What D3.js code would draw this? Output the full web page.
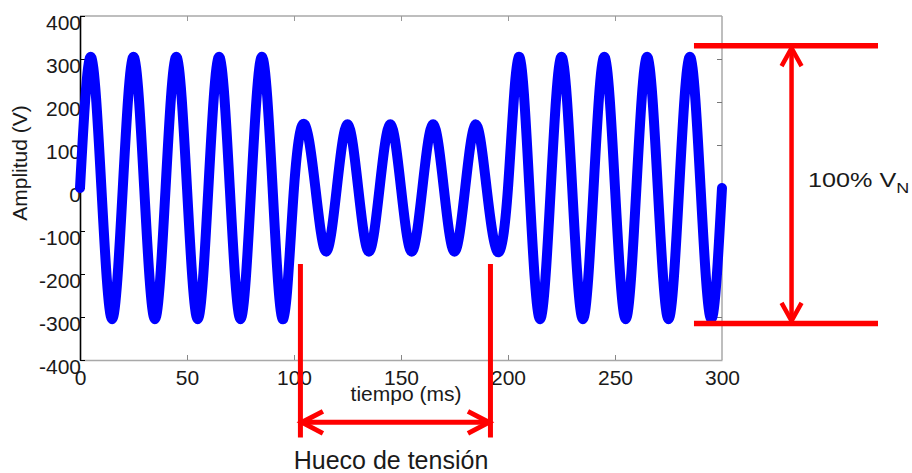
<!DOCTYPE html>
<html><head><meta charset="utf-8">
<script src="https://cdn.jsdelivr.net/npm/d3@7"></script>
<style>body{margin:0;background:#fff}svg{display:block}</style>
</head><body>
<svg id="c" width="912" height="473"></svg>
<script>
// ---- data ----
const timeMs = [0,5,10,15,20,25,30,35,40,45,50,55,60,65,70,75,80,85,90,95,
  100,105,110,115,120,125,130,135,140,145,150,155,160,165,170,175,180,185,190,195,
  200,205,210,215,220,225,230,235,240,245,250,255,260,265,270,275,280,285,290,295,300];
const voltage = [0,305,0,-305,0,305,0,-305,0,305,0,-305,0,305,0,-305,0,305,0,-305,
  0,148,0,-148,0,148,0,-148,0,148,0,-148,0,148,0,-148,0,148,0,-148,
  0,305,0,-305,0,305,0,-305,0,305,0,-305,0,305,0,-305,0,305,0,-305,0];
const xTicks = [0,50,100,150,200,250,300];
const yTicks = [-400,-300,-200,-100,0,100,200,300,400];
const xTitle = "tiempo (ms)";
const yTitle = "Amplitud (V)";
const sagTitle = "Hueco de tensión";
const nominalTitle = "100% V";
const nominalSub = "N";
// annotation anchors (data units)
const sagMarks = [103, 191.8];
const nominalLevels = [331, -315];

// ---- layout ----
const svg = d3.select("#c");
const x = d3.scaleLinear().domain([0,300]).range([80,722]);
const y = d3.scaleLinear().domain([-400,400]).range([360,16]);
const font = "'Liberation Sans', Arial, sans-serif";
const gray = "#a8a8a8";
const fmt = d => String(d);

// frame
svg.append("line").attr("x1",x(0)).attr("x2",x(300)).attr("y1",y(400)).attr("y2",y(400)).attr("stroke",gray).attr("stroke-width",1.5);
svg.append("line").attr("x1",x(300)).attr("x2",x(300)).attr("y1",y(400)).attr("y2",y(-400)).attr("stroke",gray).attr("stroke-width",1.5);

// top & right ticks (inward)
svg.append("g").attr("transform",`translate(0,${y(400)})`)
  .call(d3.axisTop(x).tickValues(xTicks.slice(1,-1)).tickSize(-5).tickSizeOuter(0).tickFormat(""))
  .call(g=>{g.select(".domain").remove();g.selectAll("line").attr("stroke","#999");});
svg.append("g").attr("transform",`translate(${x(300)},0)`)
  .call(d3.axisRight(y).tickValues(yTicks.slice(1,-1)).tickSize(-5).tickSizeOuter(0).tickFormat(""))
  .call(g=>{g.select(".domain").remove();g.selectAll("line").attr("stroke","#777");});

// bottom axis
svg.append("g").attr("transform",`translate(0,${y(-400)})`)
  .call(d3.axisBottom(x).tickValues(xTicks).tickSize(-5).tickSizeOuter(0).tickPadding(0).tickFormat(fmt))
  .call(g=>{
    g.select(".domain").attr("stroke",gray).attr("stroke-width",1.5);
    g.selectAll(".tick line").attr("stroke","#888").filter(d=>d===0||d===300).remove();
    g.selectAll("text").attr("y",25).attr("dy",0).attr("fill","#1a1a1a")
      .style("font-family",font).style("font-size","21px");
  });

// left axis
svg.append("g").attr("transform",`translate(${x(0)},0)`)
  .call(d3.axisLeft(y).tickValues(yTicks).tickSize(-5).tickSizeOuter(0).tickPadding(0).tickFormat(fmt))
  .call(g=>{
    g.select(".domain").attr("stroke","#000").attr("stroke-width",1.6);
    g.selectAll(".tick line").attr("stroke","#000");
    g.selectAll("text").attr("x",1).attr("dy",0).attr("y",13.5).attr("fill","#1a1a1a")
      .style("font-family",font).style("font-size","21px");
  });

// axis titles
svg.append("text").attr("x",406).attr("y",401).attr("text-anchor","middle")
  .style("font-family",font).style("font-size","21px").attr("fill","#1a1a1a").text(xTitle);
svg.append("text").attr("transform","translate(27,163) rotate(-90)").attr("text-anchor","middle")
  .style("font-family",font).style("font-size","21px").attr("fill","#1a1a1a").text(yTitle);

// waveform
const pts = timeMs.map((t,i)=>[t,voltage[i]]);
svg.append("path").datum(pts)
  .attr("d", d3.line().x(d=>x(d[0])).y(d=>y(d[1])).curve(d3.curveNatural))
  .attr("fill","none").attr("stroke","#0000ff").attr("stroke-width",10)
  .attr("stroke-linejoin","round").attr("stroke-linecap","round");

// ---- red annotations ----
const red = "#ff0000";
const ann = svg.append("g").attr("stroke",red).attr("fill","none");
// sag bars
sagMarks.forEach(t=>{
  ann.append("line").attr("x1",x(t)).attr("x2",x(t)).attr("y1",y(-177)).attr("y2",y(-580)).attr("stroke-width",5);
});
// horizontal double arrow
const ay = y(-545);
const xa = x(sagMarks[0])+1.5, xb = x(sagMarks[1])-1.5;
ann.append("line").attr("x1",xa).attr("x2",xb).attr("y1",ay).attr("y2",ay).attr("stroke-width",5);
ann.append("path").attr("d",`M${xa+21},${ay-11}L${xa},${ay}L${xa+21},${ay+11}`).attr("stroke-width",5);
ann.append("path").attr("d",`M${xb-21},${ay-11}L${xb},${ay}L${xb-21},${ay+11}`).attr("stroke-width",5);

// nominal level lines
nominalLevels.forEach(v=>{
  ann.append("line").attr("x1",x(286.9)).attr("x2",x(372.9)).attr("y1",y(v)).attr("y2",y(v)).attr("stroke-width",5.5);
});
const vx = x(332.5);
const ya = y(nominalLevels[0])+2.5, yb = y(nominalLevels[1])-2.5;
ann.append("line").attr("x1",vx).attr("x2",vx).attr("y1",ya).attr("y2",yb).attr("stroke-width",4.5);
ann.append("path").attr("d",`M${vx-10},${ya+18}L${vx},${ya}L${vx+10},${ya+18}`).attr("stroke-width",4.5);
ann.append("path").attr("d",`M${vx-10},${yb-18}L${vx},${yb}L${vx+10},${yb-18}`).attr("stroke-width",4.5);

// annotation labels
svg.append("text").attr("x",391).attr("y",469).attr("text-anchor","middle")
  .style("font-family",font).style("font-size","25px").attr("fill","#1a1a1a").text(sagTitle);
const nt = svg.append("text").attr("transform","translate(808,187) scale(1.2,1)")
  .style("font-family",font).style("font-size","21px").attr("fill","#1a1a1a");
nt.append("tspan").text(nominalTitle);
nt.append("tspan").attr("dy",6).style("font-size","15px").text(nominalSub);
</script>
</body></html>
